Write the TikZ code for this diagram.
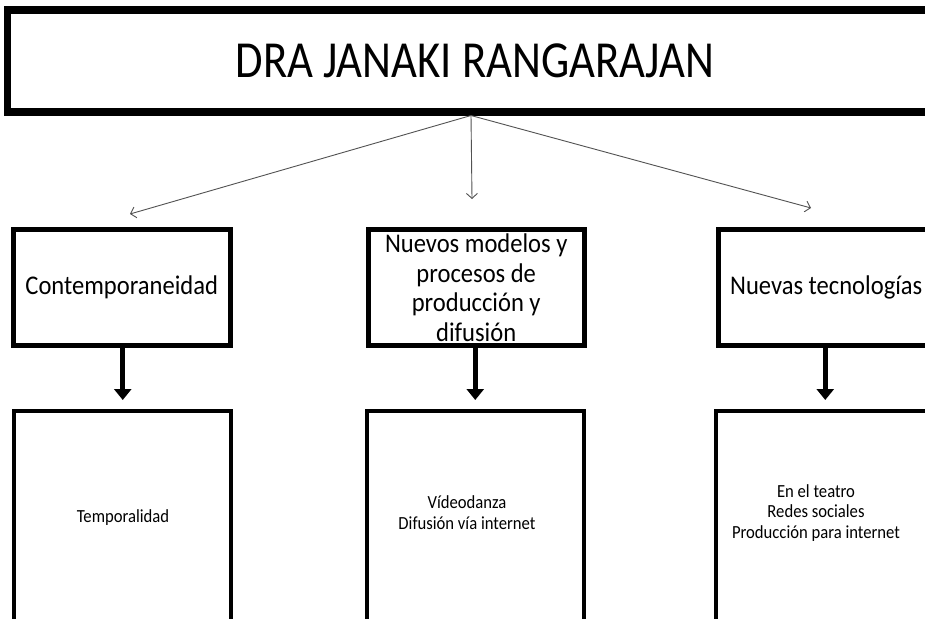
\documentclass[tikz,border=0pt]{standalone}
\usepackage{fontspec}
\setmainfont{Carlito}
\newfontfamily\titlefont[FakeStretch=0.86]{Carlito}
\newfontfamily\themefont[FakeStretch=0.91]{Carlito}
\newfontfamily\detailfont[FakeStretch=0.9]{Carlito}
\usetikzlibrary{arrows.meta}

\begin{document}
\begin{tikzpicture}[x=1pt, y=-1pt,
  headbox/.style={draw, line width=7.5pt, inner sep=0pt, minimum width=934.5pt, minimum height=102pt,
    font=\titlefont\fontsize{52}{56}\selectfont},
  midbox/.style={draw, line width=5pt, inner sep=0pt, minimum width=216.5pt, minimum height=116pt,
    align=center, font=\themefont\fontsize{27}{29.5}\selectfont},
  lowbox/.style={draw, line width=4pt, inner sep=0pt, minimum width=217pt, minimum height=229pt},
  lowtext/.style={align=center, inner sep=0pt, font=\detailfont\fontsize{18.5}{20.5}\selectfont},
  thinarrow/.style={draw=black!68, line width=0.9pt, -{Straight Barb[length=5pt,width=11pt]}},
  thickarrow/.style={draw, line width=5pt, -{Triangle[length=11pt,width=17pt]}, shorten >=9pt}]
\useasboundingbox (0,0) rectangle (925,618);
\clip (0,0) rectangle (925,618);
\fill[white] (0,0) rectangle (925,618);

% heading
\node[headbox] (head) at (474.75,61) {DRA JANAKI RANGARAJAN};

% three themes
\node[midbox] (m1) at (121.75,287.5) {Contemporaneidad};
\node[midbox] (m2) at (476.25,287.5) {Nuevos modelos y\\procesos de\\producción y\\difusión};
\node[midbox] (m3) at (826.25,287.5) {Nuevas tecnologías};

% detail boxes
\node[lowbox] (l1) at (122.5,525.5) {};
\node[lowbox] (l2) at (475.5,525.5) {};
\node[lowbox] (l3) at (824.5,525.5) {};
\node[lowtext] (t1) at (123,518) {Temporalidad};
\node[lowtext] (t2) at (467,512.5) {Vídeodanza\\Difusión vía internet};
\node[lowtext] (t3) at (816,513) {En el teatro\\Redes sociales\\Producción para internet};

% connectors from the heading
\coordinate (hub) at (471,115.5);
\coordinate (e1) at (130,214);
\coordinate (e2) at (472,199);
\coordinate (e3) at (811,208);
\draw[thinarrow] (hub) -- (e1);
\draw[thinarrow] (hub) -- (e2);
\draw[thinarrow] (hub) -- (e3);

% connectors to the details
\draw[thickarrow] ([xshift=1pt]m1.south) -- ([xshift=1pt]m1.south |- l1.north);
\draw[thickarrow] ([xshift=-1pt]m2.south) -- ([xshift=-1pt]m2.south |- l2.north);
\draw[thickarrow] ([xshift=-1pt]m3.south) -- ([xshift=-1pt]m3.south |- l3.north);
\end{tikzpicture}
\end{document}
